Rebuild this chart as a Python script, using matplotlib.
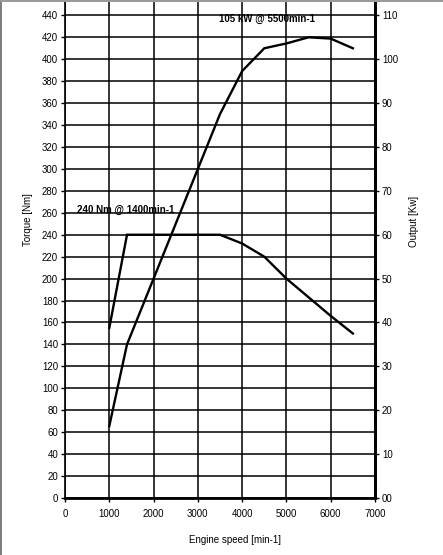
import matplotlib
matplotlib.use("Agg")
import matplotlib.pyplot as plt
from matplotlib.patches import Rectangle

plt.rcParams['font.family'] = ['Liberation Sans', 'DejaVu Sans']

rpm_torque = [1000, 1400, 3500, 4000, 4500, 5000, 5500, 6000, 6500]
torque_nm = [155, 240, 240, 232, 220, 200, 183, 166, 150]

rpm_power = [1000, 1400, 2000, 2500, 3000, 3500, 4000, 4500, 5000, 5500, 6000, 6500]
power_kw = [16.4, 35, 50, 62.5, 75, 87.5, 97.3, 102.5, 103.6, 105, 104.7, 102.5]

x_ticks = [0, 1000, 2000, 3000, 4000, 5000, 6000, 7000]
left_ticks = list(range(0, 441, 20))
right_ticks = list(range(0, 111, 10))
right_labels = ["00"] + [str(v) for v in right_ticks[1:]]

W, H = 443, 555
fig = plt.figure(figsize=(W / 100, H / 100), dpi=100)
fig.patch.set_facecolor('white')

ax = fig.add_axes([65 / W, 1 - 498 / H, 310 / W, 498 / H])
ymax = 454
ax.set_xlim(0, 7000)
ax.set_ylim(0, ymax)

ax.set_xticks(x_ticks)
ax.set_xticklabels([str(v) for v in x_ticks])
ax.set_yticks(left_ticks)
ax.set_yticklabels([str(v) for v in left_ticks])
ax.grid(True, color='black', linewidth=1.1)
ax.set_axisbelow(True)
ax.tick_params(axis='y', labelsize=6.9, length=3, width=1, direction='out', pad=2)
ax.tick_params(axis='x', labelsize=6.9, length=3, width=1, direction='out', pad=5)

ax.spines['left'].set_linewidth(1.2)
ax.spines['bottom'].set_linewidth(2)
ax.spines['right'].set_linewidth(2)
ax.spines['top'].set_visible(False)

ax.plot(rpm_torque, torque_nm, color='black', linewidth=1.7, solid_joinstyle='miter')

ax2 = ax.twinx()
ax2.set_ylim(0, ymax / 4)
ax2.set_yticks(right_ticks)
ax2.set_yticklabels(right_labels)
ax2.tick_params(axis='y', labelsize=6.9, length=3, width=1, direction='out', pad=2)
for s in ['left', 'top', 'bottom']:
    ax2.spines[s].set_visible(False)
ax2.spines['right'].set_linewidth(2)
ax2.plot(rpm_power, power_kw, color='black', linewidth=1.7, solid_joinstyle='miter')

ax.set_xlabel('Engine speed [min-1]', fontsize=7)
ax.xaxis.set_label_coords(170 / 310, (498 - 535) / 498)
ax.set_ylabel('Torque [Nm]', fontsize=7)
ax.yaxis.set_label_coords((33 - 65) / 310, 1 - 220 / 498)
ax2.set_ylabel('Output [Kw]', fontsize=7)
ax2.yaxis.set_label_coords((409 - 65) / 310, 1 - 221 / 498)

fig.text(77 / W, 1 - 210 / H, '240 Nm @ 1400min-1', fontsize=7, fontweight='bold',
         ha='left', va='center')
fig.text(219 / W, 1 - 19 / H, '105 kW @ 5500min-1', fontsize=7, fontweight='bold',
         ha='left', va='center')

# window frame
fig.patches.append(Rectangle((0, 0), 2 / W, 1, transform=fig.transFigure,
                             facecolor='#7f7f7f', edgecolor='none'))
fig.patches.append(Rectangle((0, 1 - 1.5 / H), 1, 1.5 / H, transform=fig.transFigure,
                             facecolor='#9a9a9a', edgecolor='none'))

fig.savefig('out.png', dpi=100, facecolor='white')
